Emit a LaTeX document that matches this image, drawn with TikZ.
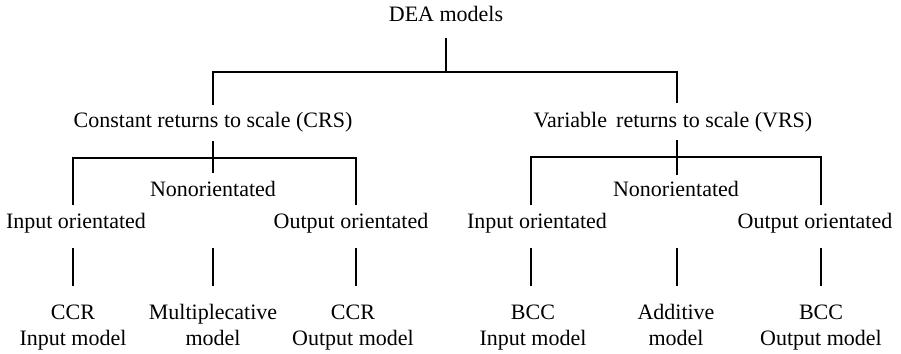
\documentclass[tikz,border=0pt]{standalone}
\usepackage{fontspec}
\setmainfont{Liberation Serif}
\begin{document}
\begin{tikzpicture}[x=1pt,y=-1pt,
  lbl/.style={inner sep=0pt, anchor=base, font=\fontsize{22}{26}\selectfont},
  leaf/.style={inner sep=0pt, anchor=north, align=center, font=\fontsize{22}{26}\selectfont},
  conn/.style={line width=1.4pt}]
\useasboundingbox (0,0) rectangle (901,353);
% columns and bars
\coordinate (cA) at (73,0);
\coordinate (cB) at (213,0);
\coordinate (cC) at (356,0);
\coordinate (cD) at (531,0);
\coordinate (cE) at (677,0);
\coordinate (cF) at (821,0);
\coordinate (hTop) at (0,72);
\coordinate (hL) at (0,158);
\coordinate (hR) at (0,157);
% nodes
\node[lbl] (dea) at (446,21.5) {DEA models};
\node[lbl] (crs) at (213,127) {Constant returns to scale (CRS)};
\node[lbl] (vrs) at (673,127) {Variable\, returns to scale (VRS)};
\node[lbl] (nonL) at (213,196) {Nonorientated};
\node[lbl] (nonR) at (676,196) {Nonorientated};
\node[lbl] (inL) at (76,228) {Input orientated};
\node[lbl] (outL) at (351,228) {Output orientated};
\node[lbl] (inR) at (537,228) {Input orientated};
\node[lbl] (outR) at (815,228) {Output orientated};
\node[leaf] (mA) at (73,301) {\strut CCR\\Input model};
\node[leaf] (mB) at (213,301) {\strut Multiplecative\\model};
\node[leaf] (mC) at (353,301) {\strut CCR\\Output model};
\node[leaf] (mD) at (533,301) {\strut BCC\\Input model};
\node[leaf] (mE) at (676,301) {\strut Additive\\model};
\node[leaf] (mF) at (821,301) {\strut BCC\\Output model};
% connectors
\draw[conn] ([yshift=-16.5pt]dea.base) -- (dea.base |- hTop);
\draw[conn] ([yshift=22pt]crs.base) |- (hTop -| cE) -- ([yshift=24pt]vrs.base -| cE);
% CRS branch
\draw[conn] ([yshift=-14pt]crs.base) -- ([yshift=23pt]nonL.base);
\draw[conn] ([yshift=23pt]inL.base -| cA) |- (hL -| cC) -- ([yshift=23pt]outL.base -| cC);
% VRS branch
\draw[conn] ([yshift=-13pt]vrs.base -| cE) -- ([yshift=21pt]nonR.base -| cE);
\draw[conn] ([yshift=23pt]inR.base -| cD) |- (hR -| cF) -- ([yshift=23pt]outR.base -| cF);
% lower connectors
\draw[conn] ([yshift=-20pt]inL.base -| cA) -- ([yshift=15pt]mA.north -| cA);
\draw[conn] ([yshift=-52pt]nonL.base -| cB) -- ([yshift=15pt]mB.north -| cB);
\draw[conn] ([yshift=-20pt]outL.base -| cC) -- ([yshift=15pt]mC.north -| cC);
\draw[conn] ([yshift=-20pt]inR.base -| cD) -- ([yshift=15pt]mD.north -| cD);
\draw[conn] ([yshift=-52pt]nonR.base -| cE) -- ([yshift=15pt]mE.north -| cE);
\draw[conn] ([yshift=-20pt]outR.base -| cF) -- ([yshift=15pt]mF.north -| cF);
\end{tikzpicture}
\end{document}
